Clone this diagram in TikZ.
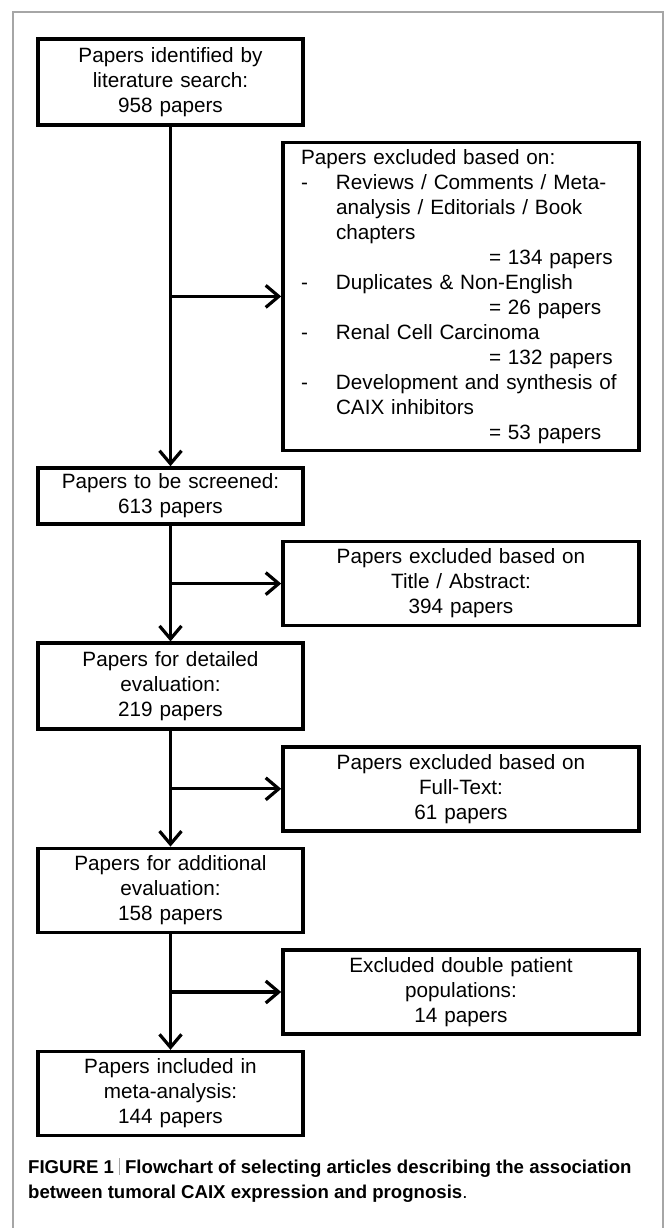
\documentclass[tikz,border=0pt]{standalone}
\usepackage{fontspec}
\setmainfont{Liberation Sans}
\usetikzlibrary{arrows.meta, positioning}

\begin{document}
\begin{tikzpicture}[x=1pt, y=1pt,
    flowbox/.style={rectangle, draw=black, line width=3.6pt, align=center,
      font=\fontsize{20.7pt}{25pt}\selectfont, inner xsep=6pt, inner ysep=0pt},
    mainbox/.style={flowbox, text width=253pt, minimum width=265pt, minimum height=84pt},
    sidebox/.style={flowbox, text width=320pt, inner xsep=18pt, minimum width=356pt, minimum height=84pt},
    arr/.style={-{Straight Barb[length=13pt, width=22pt]}, line width=3.2pt},
    framegray/.style={draw=gray!70, line width=1.8pt}
  ]
    \useasboundingbox (0,0) rectangle (665,-1228);
    \draw[framegray] (13,-1240) |- (663,-12) -- (663,-1240);

    \node[mainbox, minimum height=86pt] (search) at (170.5,-81.8) {Papers identified by\\literature search:\\958 papers};
    \node[sidebox, align=left, minimum height=308pt, below=14pt of search, xshift=290.5pt] (excl) {Papers excluded based on:\\
      \makebox[35pt][l]{-}Reviews / Comments / Meta-\\
      \hspace*{35pt}analysis / Editorials / Book\\
      \hspace*{35pt}chapters\\
      \hspace*{188pt}= 134 papers\\
      \makebox[35pt][l]{-}Duplicates \& Non-English\\
      \hspace*{188pt}= 26 papers\\
      \makebox[35pt][l]{-}Renal Cell Carcinoma\\
      \hspace*{188pt}= 132 papers\\
      \makebox[35pt][l]{-}Development and synthesis of\\
      \hspace*{35pt}CAIX inhibitors\\
      \hspace*{188pt}= 53 papers};
    \node[mainbox, minimum height=56pt, below=14pt of excl, xshift=-290.5pt] (screen) {Papers to be screened:\\613 papers};
    \node[sidebox, below=14pt of screen, xshift=290.5pt] (title) {Papers excluded based on\\Title / Abstract:\\394 papers};
    \node[mainbox, minimum height=86pt, below=14pt of title, xshift=-290.5pt] (detail) {Papers for detailed\\evaluation:\\219 papers};
    \node[sidebox, below=14pt of detail, xshift=290.5pt] (fulltext) {Papers excluded based on\\Full-Text:\\61 papers};
    \node[mainbox, below=14pt of fulltext, xshift=-290.5pt] (extra) {Papers for additional\\evaluation:\\158 papers};
    \node[sidebox, below=14pt of extra, xshift=290.5pt] (doublepop) {Excluded double patient\\populations:\\14 papers};
    \node[mainbox, below=14pt of doublepop, xshift=-290.5pt] (incl) {Papers included in\\meta-analysis:\\144 papers};

    \draw[arr] (search) -- (screen);
    \draw[arr] (screen) -- (detail);
    \draw[arr] (detail) -- (extra);
    \draw[arr] (extra) -- (incl);
    \draw[arr] (search.south |- excl.west) -- (excl.west);
    \draw[arr] (screen.south |- title.west) -- (title.west);
    \draw[arr] (detail.south |- fulltext.west) -- (fulltext.west);
    \draw[arr] (extra.south |- doublepop.west) -- (doublepop.west);

    \node[anchor=base west, inner sep=0pt, align=left, font=\fontsize{18.6pt}{25pt}\selectfont\bfseries] (caption) at (28,-1198)
      {FIGURE 1 {\color{gray!70}\rule[-2pt]{0.8pt}{17pt}} Flowchart of selecting articles describing the association\\
      between tumoral CAIX expression and prognosis\textmd{.}};
  \end{tikzpicture}
\end{document}
